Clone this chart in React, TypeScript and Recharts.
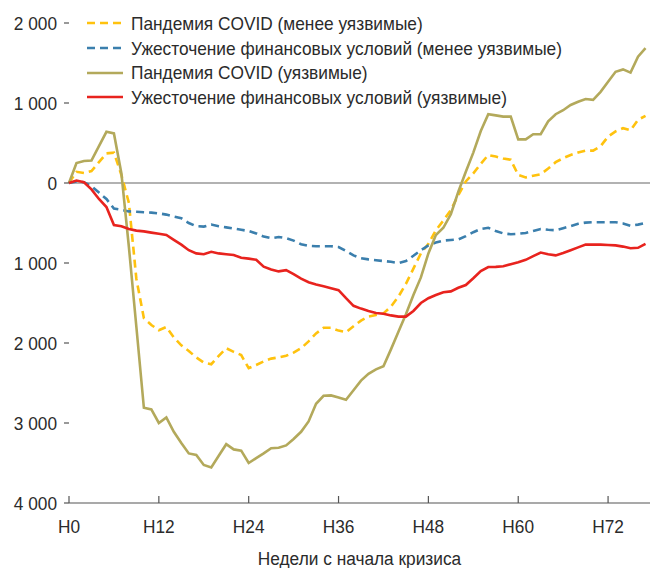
import React from "react";
import { LineChart, Line, XAxis, YAxis, ReferenceLine, Label } from "recharts";

// weeks since the start of the crisis
const weeks = [
  0, 1, 2, 3, 4, 5, 6, 7, 8, 9, 10, 11, 12, 13, 14, 15, 16, 17, 18, 19,
  20, 21, 22, 23, 24, 25, 26, 27, 28, 29, 30, 31, 32, 33, 34, 35, 36, 37, 38, 39,
  40, 41, 42, 43, 44, 45, 46, 47, 48, 49, 50, 51, 52, 53, 54, 55, 56, 57, 58, 59,
  60, 61, 62, 63, 64, 65, 66, 67, 68, 69, 70, 71, 72, 73, 74, 75, 76, 77,
];

// COVID pandemic (less vulnerable)
const covidLess = [
  0, 140, 125, 150, 260, 370, 380, 100, -250, -1200, -1690, -1775, -1840, -1800, -1930, -2030, -2100, -2180, -2245, -2265,
  -2160, -2065, -2110, -2150, -2315, -2275, -2230, -2195, -2180, -2160, -2120, -2065, -1980, -1880, -1810, -1810, -1845, -1865, -1790, -1720,
  -1670, -1650, -1630, -1545, -1420, -1260, -1070, -880, -760, -590, -470, -340, -150, 20, 120, 240, 350, 330, 305, 290,
  100, 70, 90, 110, 180, 260, 310, 350, 380, 405, 405, 460, 580, 645, 685, 660, 790, 840,
];

// tighter financial conditions (less vulnerable)
const financeLess = [
  0, 20, 10, -40, -120, -200, -320, -335, -355, -360, -365, -370, -380, -395, -420, -440, -500, -540, -545, -520,
  -540, -555, -570, -585, -600, -630, -670, -690, -675, -690, -720, -765, -785, -790, -790, -790, -800, -850, -905, -940,
  -955, -965, -975, -985, -1000, -975, -910, -840, -780, -745, -720, -712, -705, -665, -615, -575, -560, -600, -630, -640,
  -635, -625, -600, -575, -585, -590, -565, -540, -510, -495, -490, -490, -490, -490, -505, -535, -520, -500,
];

// COVID pandemic (vulnerable)
const covidVuln = [
  0, 250, 275, 280, 460, 640, 620, 120, -800, -1800, -2810, -2830, -3000, -2930, -3110, -3250, -3380, -3400, -3525, -3555,
  -3410, -3265, -3330, -3345, -3500, -3440, -3380, -3315, -3310, -3280, -3200, -3110, -2980, -2760, -2660, -2655, -2680, -2710, -2590, -2470,
  -2385, -2330, -2290, -2080, -1860, -1640, -1400, -1180, -880, -650, -560, -390, -110, 140, 380, 650, 860, 845, 830, 830,
  545, 545, 610, 610, 770, 860, 910, 975, 1015, 1050, 1040, 1140, 1265, 1390, 1420, 1380, 1580, 1685,
];

// tighter financial conditions (vulnerable)
const financeVuln = [
  0, 30, 10, -80, -200, -300, -525, -540, -575, -595, -605, -620, -635, -650, -710, -770, -840, -880, -890, -860,
  -880, -890, -900, -935, -945, -960, -1045, -1080, -1105, -1090, -1140, -1195, -1240, -1270, -1290, -1315, -1340, -1440, -1535, -1570,
  -1600, -1625, -1635, -1655, -1670, -1670, -1600, -1500, -1440, -1400, -1365, -1355, -1310, -1275, -1190, -1100, -1050, -1048, -1040, -1015,
  -990, -960, -915, -870, -890, -905, -875, -840, -805, -770, -770, -770, -775, -780, -795, -815, -810, -760,
];

const xTicks = [0, 12, 24, 36, 48, 60, 72];
const yTicks = [-4000, -3000, -2000, -1000, 0, 1000, 2000];

const series = [
  { key: "covidLess", name: "Пандемия COVID (менее уязвимые)", color: "#FFC20E", dash: "8 5" },
  { key: "financeLess", name: "Ужесточение финансовых условий (менее уязвимые)", color: "#3B7FAD", dash: "8 5" },
  { key: "covidVuln", name: "Пандемия COVID (уязвимые)", color: "#B3A95B", dash: undefined },
  { key: "financeVuln", name: "Ужесточение финансовых условий (уязвимые)", color: "#E8231E", dash: undefined },
];

const data = weeks.map((w, i) => ({
  week: w,
  covidLess: covidLess[i],
  financeLess: financeLess[i],
  covidVuln: covidVuln[i],
  financeVuln: financeVuln[i],
}));

const FONT = '"Liberation Sans", Arial, sans-serif';
const FS = 19;
const SX = 0.91; // squeeze glyphs horizontally, the original uses a narrow face
const TEXT = "#2b2b2b";
const AXIS = "#555";
const X_MARGIN = 17;

// thousands with a space, negatives shown without sign
const fmtY = (v: number) => {
  const a = Math.abs(v);
  if (a === 0) return "0";
  return `${Math.floor(a / 1000)} ${String(a % 1000).padStart(3, "0")}`;
};

const NarrowText = ({ x, y, anchor, dy, children }: any) => (
  <text
    transform={`translate(${x},${y}) scale(${SX},1)`}
    x={0}
    y={0}
    dy={dy}
    textAnchor={anchor}
    fontSize={FS}
    fill={TEXT}
    fontFamily={FONT}
  >
    {children}
  </text>
);

// bottom tick: short mark pointing up into the plot + label below
const WeekTick = (props: any) => {
  const { x, y, payload } = props;
  const axisY = y - X_MARGIN;
  return (
    <g>
      <line x1={x} x2={x} y1={axisY - 7} y2={axisY} stroke={AXIS} strokeWidth={1.2} />
      <NarrowText x={x} y={y} anchor="middle" dy="0.71em">{`H${payload.value}`}</NarrowText>
    </g>
  );
};

const ValueTick = (props: any) => {
  const { x, y, payload } = props;
  return <NarrowText x={x} y={y} anchor="end" dy="0.355em">{fmtY(payload.value)}</NarrowText>;
};

const AxisTitle = (props: any) => {
  const { x, y, width, height } = props.viewBox;
  return (
    <NarrowText x={x + width / 2} y={y + height - 3} anchor="middle" dy={0}>
      Недели с начала кризиса
    </NarrowText>
  );
};

export default function App() {
  return (
    <div style={{ position: "absolute", left: 0, top: 0, width: 650, height: 568, fontFamily: FONT }}>
      <LineChart width={650} height={568} data={data} margin={{ top: 23, right: 0, bottom: 0, left: 0 }}>
        <XAxis
          dataKey="week"
          type="number"
          domain={[0, 77.6]}
          ticks={xTicks}
          tickLine={false}
          tickSize={0}
          tickMargin={X_MARGIN}
          tick={<WeekTick />}
          axisLine={{ stroke: AXIS, strokeWidth: 1.2 }}
          height={65}
        >
          <Label content={<AxisTitle />} />
        </XAxis>
        <YAxis
          yAxisId="left"
          domain={[-4000, 2000]}
          ticks={yTicks}
          width={69}
          axisLine={false}
          tickLine={{ stroke: AXIS, strokeWidth: 1.2 }}
          tickSize={5}
          tickMargin={7}
          tick={<ValueTick />}
        />
        <YAxis
          yAxisId="right"
          orientation="right"
          mirror
          domain={[-4000, 2000]}
          ticks={yTicks}
          width={1}
          axisLine={false}
          tickLine={{ stroke: AXIS, strokeWidth: 1.2 }}
          tickSize={6}
          tickFormatter={() => ""}
        />
        <ReferenceLine yAxisId="left" y={0} stroke="#666" strokeWidth={1.2} />
        {series.map((s) => (
          <Line
            key={s.key}
            yAxisId="left"
            type="linear"
            dataKey={s.key}
            name={s.name}
            stroke={s.color}
            strokeWidth={2.6}
            strokeDasharray={s.dash}
            dot={false}
            activeDot={false}
            isAnimationActive={false}
          />
        ))}
      </LineChart>
      <div style={{ position: "absolute", left: 87, top: 11 }}>
        {series.map((s) => (
          <div key={s.key} style={{ display: "flex", alignItems: "center", height: 24.7 }}>
            <svg width={36} height={6}>
              <line x1={0} x2={36} y1={3} y2={3} stroke={s.color} strokeWidth={2.6} strokeDasharray={s.dash} />
            </svg>
            <span
              style={{
                marginLeft: 8,
                fontSize: FS,
                color: TEXT,
                lineHeight: 1,
                whiteSpace: "nowrap",
                display: "inline-block",
                transform: `scaleX(${SX})`,
                transformOrigin: "left center",
              }}
            >
              {s.name}
            </span>
          </div>
        ))}
      </div>
    </div>
  );
}
